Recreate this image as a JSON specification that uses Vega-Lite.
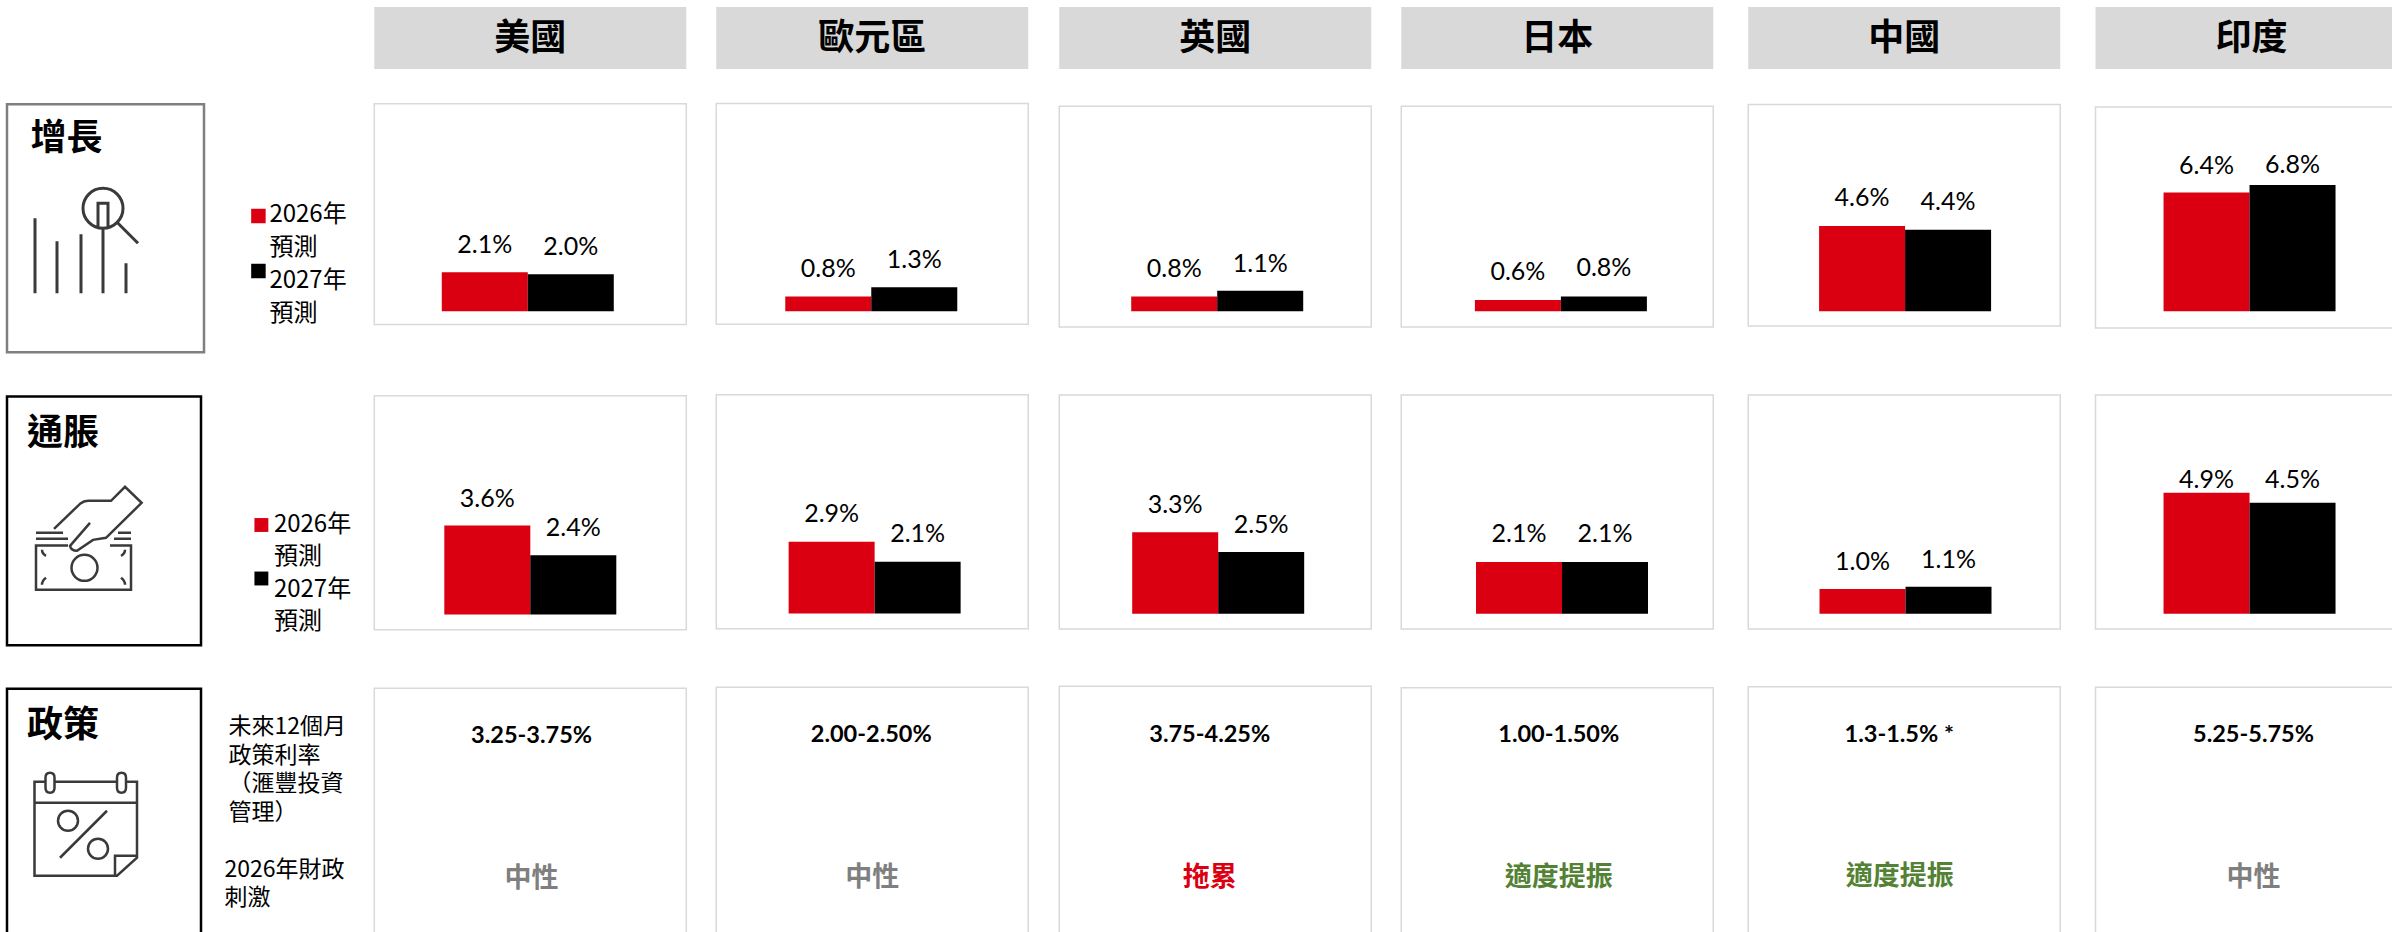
{"$schema":"https://vega.github.io/schema/vega-lite/v6.json","padding":{"left":5,"top":7,"right":0,"bottom":0},"background":"white",
"config":{"view":{"stroke":"#d9d9d9","strokeWidth":1.5},"font":"Noto Sans CJK TC","text":{"baseline":"middle","fill":"#000000"},"style":{"val":{"font":"Lato","fontSize":25,"baseline":"middle","fill":"#000000"},"rate":{"font":"Lato","fontSize":23.5,"fontWeight":"bold","baseline":"middle","fill":"#000000"},"head":{"fontSize":36,"fontWeight":"bold","baseline":"middle","fill":"#000000","dy":1},"cat":{"fontSize":36,"fontWeight":"bold","baseline":"middle","align":"center","fill":"#000000"},"fiscal":{"fontSize":27,"fontWeight":"bold","baseline":"middle"},"side":{"fontSize":24,"baseline":"middle","align":"left","fill":"#000000"},"sidesmall":{"fontSize":23,"baseline":"middle","align":"left","fill":"#000000"},"icon":{"filled":false,"opacity":1,"size":4}}},
"datasets":{
"forecasts":[
{"country":"美國","metric":"增長","year":"2026年","value":2.1,"label":"2.1%"},{"country":"美國","metric":"增長","year":"2027年","value":2.0,"label":"2.0%"},
{"country":"歐元區","metric":"增長","year":"2026年","value":0.8,"label":"0.8%"},{"country":"歐元區","metric":"增長","year":"2027年","value":1.3,"label":"1.3%"},
{"country":"英國","metric":"增長","year":"2026年","value":0.8,"label":"0.8%"},{"country":"英國","metric":"增長","year":"2027年","value":1.1,"label":"1.1%"},
{"country":"日本","metric":"增長","year":"2026年","value":0.6,"label":"0.6%"},{"country":"日本","metric":"增長","year":"2027年","value":0.8,"label":"0.8%"},
{"country":"中國","metric":"增長","year":"2026年","value":4.6,"label":"4.6%"},{"country":"中國","metric":"增長","year":"2027年","value":4.4,"label":"4.4%"},
{"country":"印度","metric":"增長","year":"2026年","value":6.4,"label":"6.4%"},{"country":"印度","metric":"增長","year":"2027年","value":6.8,"label":"6.8%"},
{"country":"美國","metric":"通脹","year":"2026年","value":3.6,"label":"3.6%"},{"country":"美國","metric":"通脹","year":"2027年","value":2.4,"label":"2.4%"},
{"country":"歐元區","metric":"通脹","year":"2026年","value":2.9,"label":"2.9%"},{"country":"歐元區","metric":"通脹","year":"2027年","value":2.1,"label":"2.1%"},
{"country":"英國","metric":"通脹","year":"2026年","value":3.3,"label":"3.3%"},{"country":"英國","metric":"通脹","year":"2027年","value":2.5,"label":"2.5%"},
{"country":"日本","metric":"通脹","year":"2026年","value":2.1,"label":"2.1%"},{"country":"日本","metric":"通脹","year":"2027年","value":2.1,"label":"2.1%"},
{"country":"中國","metric":"通脹","year":"2026年","value":1.0,"label":"1.0%"},{"country":"中國","metric":"通脹","year":"2027年","value":1.1,"label":"1.1%"},
{"country":"印度","metric":"通脹","year":"2026年","value":4.9,"label":"4.9%"},{"country":"印度","metric":"通脹","year":"2027年","value":4.5,"label":"4.5%"}],
"countries":[{"country":"美國","rate":"3.25-3.75%","fiscal":"中性"},{"country":"歐元區","rate":"2.00-2.50%","fiscal":"中性"},{"country":"英國","rate":"3.75-4.25%","fiscal":"拖累"},{"country":"日本","rate":"1.00-1.50%","fiscal":"適度提振"},{"country":"中國","rate":"1.3-1.5% *","fiscal":"適度提振"},{"country":"印度","rate":"5.25-5.75%","fiscal":"中性"}],
"categories":[{"category":"增長"},{"category":"通脹"},{"category":"政策"}],
"years":[{"year":"2026年"},{"year":"2027年"}],
"legendLines":[{"line":1,"text":"2026年"},{"line":2,"text":"預測"},{"line":3,"text":"2027年"},{"line":4,"text":"預測"}],
"policyLines":[{"line":1,"text":"未來12個月"},{"line":2,"text":"政策利率"},{"line":3,"text":"（滙豐投資"},{"line":4,"text":"管理）"},{"line":6,"text":"2026年財政"},{"line":7,"text":"刺激"}]},
"hconcat":[{"spacing":33.25,"hconcat":[
{"spacing":28.25,"hconcat":[
{"spacing":29.25,"hconcat":[
{"spacing":27.25,"hconcat":[
{"spacing":13.3,"hconcat":[
{"spacing":18.4,"hconcat":[
{"spacing":40.25,"vconcat":[
{"width":1,"height":54.5,"view":{"stroke":null},"data":{"values":[]},"mark":{"type":"text"},"encoding":{}},
{"width":197,"height":248,"view":{"stroke":"#7f7f7f","strokeWidth":2.5},"data":{"name":"categories"},"transform":[{"filter":"datum.category==='增長'"}],"layer":[
{"mark":{"type":"text","style":"cat","dx":-39,"dy":-89},"encoding":{"text":{"field":"category"}}},
{"mark":{"type":"point","style":"icon","stroke":"#3a3a3a","strokeWidth":3,"shape":"M-70.5 -10 L-70.5 65 M-48.5 13 L-48.5 65 M-24.5 6 L-24.5 65 M-2.5 0 L-2.5 65 M20.5 35 L20.5 65 M-22.5 -20 A20 20 0 1 0 17.5 -20 A20 20 0 1 0 -22.5 -20 M-7.5 0 L-7.5 -25 L2.5 -25 L2.5 0 M12.5 -5 L32.5 15"},"encoding":{}}]},
{"width":194,"height":248.7,"view":{"stroke":"#000000","strokeWidth":2.5},"data":{"name":"categories"},"transform":[{"filter":"datum.category==='通脹'"}],"layer":[
{"mark":{"type":"text","style":"cat","dx":-41,"dy":-87},"encoding":{"text":{"field":"category"}}},
{"mark":{"type":"point","style":"icon","stroke":"#3a3a3a","strokeWidth":2.5,"shape":"M-50 8 L-24 -17 Q-20 -20 -16 -20 L7 -20 L21 -34 L37.6 -18 L2 17 L-11 19 L-27 30 Q-33 30 -34 25 L-14 2 M-68 12 L-41 12 M-68 18 L-36 18 M14 12 L27 12 M10 18 L27 18 M-36 24.7 L-68 24.7 L-68 69 L27 69 L27 24.7 L6 24.7 M-32.5 47 A13 13 0 1 0 -6.5 47 A13 13 0 1 0 -32.5 47 M-62 29 Q-62 33 -58 35 M21 29 Q21 33 17 35 M-62 64 Q-62 60 -58 57 M21 64 Q21 60 17 57"},"encoding":{}}]},
{"width":194,"height":260,"view":{"stroke":"#000000","strokeWidth":2.5},"data":{"name":"categories"},"transform":[{"filter":"datum.category==='政策'"}],"layer":[
{"mark":{"type":"text","style":"cat","dx":-41,"dy":-93},"encoding":{"text":{"field":"category"}}},
{"mark":{"type":"point","style":"icon","stroke":"#3a3a3a","strokeWidth":2.5,"shape":"M-58.5 -37 L-69.5 -37 L-69.5 57 L13 57 L33 39 L33 -37 L22 -37 M-49.5 -37 L13 -37 M-69.5 -16 L33 -16 M11 57 L11 37 L33 37 M-58.5 -41 Q-58.5 -46 -54 -46 Q-49.5 -46 -49.5 -41 L-49.5 -31 Q-49.5 -26 -54 -26 Q-58.5 -26 -58.5 -31 Z M13 -41 Q13 -46 17.5 -46 Q22 -46 22 -41 L22 -31 Q22 -26 17.5 -26 Q13 -26 13 -31 Z M-46 2 A10 10 0 1 0 -26 2 A10 10 0 1 0 -46 2 M3 -8 L-44 39 M-16 30 A10 10 0 1 0 4 30 A10 10 0 1 0 -16 30"},"encoding":{}}]}]},
{"spacing":74.7,"vconcat":[
{"spacing":179,"vconcat":[
{"width":1,"height":12,"view":{"stroke":null},"data":{"values":[]},"mark":{"type":"text"},"encoding":{}},
{"width":135,"height":132,"view":{"stroke":null},"resolve":{"scale":{"y":"independent"}},"layer":[
{"data":{"name":"legendLines"},"mark":{"type":"text","style":"side","dx":-22.5},"encoding":{"y":{"field":"line","type":"ordinal","axis":null,"scale":{"type":"point","padding":0.5}},"text":{"field":"text"}}},
{"data":{"name":"years"},"mark":{"type":"point","shape":"square","filled":true,"size":210,"opacity":1},"encoding":{"x":{"datum":0.252,"type":"quantitative","axis":null,"scale":{"domain":[0,1]}},"y":{"field":"year","type":"ordinal","axis":null,"scale":{"type":"point","padding":0,"range":[18,73]}},"color":{"field":"year","type":"nominal","legend":null,"scale":{"domain":["2026年","2027年"],"range":["#db0011","#000000"]}}}}]},
{"width":135,"height":129,"view":{"stroke":null},"resolve":{"scale":{"y":"independent"}},"layer":[
{"data":{"name":"legendLines"},"mark":{"type":"text","style":"side","dx":-18},"encoding":{"y":{"field":"line","type":"ordinal","axis":null,"scale":{"type":"point","padding":0.5}},"text":{"field":"text"}}},
{"data":{"name":"years"},"mark":{"type":"point","shape":"square","filled":true,"size":193,"opacity":1},"encoding":{"x":{"datum":0.274,"type":"quantitative","axis":null,"scale":{"domain":[0,1]}},"y":{"field":"year","type":"ordinal","axis":null,"scale":{"type":"point","padding":0,"range":[16,69.5]}},"color":{"field":"year","type":"nominal","legend":null,"scale":{"domain":["2026年","2027年"],"range":["#db0011","#000000"]}}}}]}]},
{"width":135,"height":200,"view":{"stroke":null},"data":{"name":"policyLines"},"encoding":{"y":{"field":"line","type":"ordinal","axis":null,"scale":{"type":"point","padding":0.5,"domain":[1,2,3,4,5,6,7]}},"text":{"field":"text"}},"layer":[
{"transform":[{"filter":"datum.line<5"}],"mark":{"type":"text","style":"sidesmall","dx":-63.5}},
{"transform":[{"filter":"datum.line>5"}],"mark":{"type":"text","style":"sidesmall","dx":-67.5}}]}]}]},

{"spacing":56.2,"vconcat":[{"spacing":68.8,"vconcat":[{"spacing":33.75,"vconcat":[
{"width":312,"height":62,"view":{"fill":"#d9d9d9","stroke":null},"data":{"name":"countries"},"transform":[{"filter":"datum.country==='美國'"}],"mark":{"type":"text","style":"head"},"encoding":{"text":{"field":"country"}}},
{"width":312,"height":220.7,"data":{"name":"forecasts"},"transform":[{"filter":"datum.country==='美國'&&datum.metric==='增長'"}],"encoding":{"x":{"field":"year","type":"nominal","axis":null,"scale":{"type":"band","domain":["2026年","2027年"],"paddingInner":0,"paddingOuter":0.814,"align":0.482}},"y":{"field":"value","type":"quantitative","axis":null,"scale":{"domain":[-0.7116,11.186],"nice":false,"zero":false}}},"layer":[{"mark":{"type":"bar"},"encoding":{"color":{"field":"year","type":"nominal","legend":null,"scale":{"domain":["2026年","2027年"],"range":["#db0011","#000000"]}}}},{"mark":{"type":"text","style":"val","dy":-27},"encoding":{"text":{"field":"label"}}}]}]},
{"width":312,"height":234,"data":{"name":"forecasts"},"transform":[{"filter":"datum.country==='美國'&&datum.metric==='通脹'"}],"encoding":{"x":{"field":"year","type":"nominal","axis":null,"scale":{"type":"band","domain":["2026年","2027年"],"paddingInner":0,"paddingOuter":0.814,"align":0.5}},"y":{"field":"value","type":"quantitative","axis":null,"scale":{"domain":[-0.6194,8.854],"nice":false,"zero":false}}},"layer":[{"mark":{"type":"bar"},"encoding":{"color":{"field":"year","type":"nominal","legend":null,"scale":{"domain":["2026年","2027年"],"range":["#db0011","#000000"]}}}},{"mark":{"type":"text","style":"val","dy":-27},"encoding":{"text":{"field":"label"}}}]}]},
{"width":312,"height":260,"view":{"stroke":"#d9d9d9","strokeWidth":1.5},"data":{"name":"countries"},"transform":[{"filter":"datum.country==='美國'"}],"layer":[{"mark":{"type":"text","style":"rate","dx":1.3,"dy":-82},"encoding":{"text":{"field":"rate"}}},{"mark":{"type":"text","style":"fiscal","dx":1.3,"dy":61},"encoding":{"text":{"field":"fiscal"},"fill":{"field":"fiscal","type":"nominal","legend":null,"scale":{"domain":["中性","拖累","適度提振"],"range":["#7f7f7f","#db0011","#548235"]}}}}]}]}]},

{"spacing":56.2,"vconcat":[{"spacing":68.8,"vconcat":[{"spacing":33.55,"vconcat":[
{"width":312,"height":62,"view":{"fill":"#d9d9d9","stroke":null},"data":{"name":"countries"},"transform":[{"filter":"datum.country==='歐元區'"}],"mark":{"type":"text","style":"head"},"encoding":{"text":{"field":"country"}}},
{"width":312,"height":220.7,"data":{"name":"forecasts"},"transform":[{"filter":"datum.country==='歐元區'&&datum.metric==='增長'"}],"encoding":{"x":{"field":"year","type":"nominal","axis":null,"scale":{"type":"band","domain":["2026年","2027年"],"paddingInner":0,"paddingOuter":0.814,"align":0.493}},"y":{"field":"value","type":"quantitative","axis":null,"scale":{"domain":[-0.7008,11.197],"nice":false,"zero":false}}},"layer":[{"mark":{"type":"bar"},"encoding":{"color":{"field":"year","type":"nominal","legend":null,"scale":{"domain":["2026年","2027年"],"range":["#db0011","#000000"]}}}},{"mark":{"type":"text","style":"val","dy":-27},"encoding":{"text":{"field":"label"}}}]}]},
{"width":312,"height":234,"data":{"name":"forecasts"},"transform":[{"filter":"datum.country==='歐元區'&&datum.metric==='通脹'"}],"encoding":{"x":{"field":"year","type":"nominal","axis":null,"scale":{"type":"band","domain":["2026年","2027年"],"paddingInner":0,"paddingOuter":0.814,"align":0.517}},"y":{"field":"value","type":"quantitative","axis":null,"scale":{"domain":[-0.6194,8.854],"nice":false,"zero":false}}},"layer":[{"mark":{"type":"bar"},"encoding":{"color":{"field":"year","type":"nominal","legend":null,"scale":{"domain":["2026年","2027年"],"range":["#db0011","#000000"]}}}},{"mark":{"type":"text","style":"val","dy":-27.5},"encoding":{"text":{"field":"label"}}}]}]},
{"width":312,"height":260,"view":{"stroke":"#d9d9d9","strokeWidth":1.5},"data":{"name":"countries"},"transform":[{"filter":"datum.country==='歐元區'"}],"layer":[{"mark":{"type":"text","style":"rate","dx":-1,"dy":-82},"encoding":{"text":{"field":"rate"}}},{"mark":{"type":"text","style":"fiscal","dx":0,"dy":61},"encoding":{"text":{"field":"fiscal"},"fill":{"field":"fiscal","type":"nominal","legend":null,"scale":{"domain":["中性","拖累","適度提振"],"range":["#7f7f7f","#db0011","#548235"]}}}}]}]}]},

{"spacing":55.2,"vconcat":[{"spacing":66.1,"vconcat":[{"spacing":36.25,"vconcat":[
{"width":312,"height":62,"view":{"fill":"#d9d9d9","stroke":null},"data":{"name":"countries"},"transform":[{"filter":"datum.country==='英國'"}],"mark":{"type":"text","style":"head"},"encoding":{"text":{"field":"country"}}},
{"width":312,"height":220.7,"data":{"name":"forecasts"},"transform":[{"filter":"datum.country==='英國'&&datum.metric==='增長'"}],"encoding":{"x":{"field":"year","type":"nominal","axis":null,"scale":{"type":"band","domain":["2026年","2027年"],"paddingInner":0,"paddingOuter":0.814,"align":0.514}},"y":{"field":"value","type":"quantitative","axis":null,"scale":{"domain":[-0.8464,11.051],"nice":false,"zero":false}}},"layer":[{"mark":{"type":"bar"},"encoding":{"color":{"field":"year","type":"nominal","legend":null,"scale":{"domain":["2026年","2027年"],"range":["#db0011","#000000"]}}}},{"mark":{"type":"text","style":"val","dy":-27},"encoding":{"text":{"field":"label"}}}]}]},
{"width":312,"height":234,"data":{"name":"forecasts"},"transform":[{"filter":"datum.country==='英國'&&datum.metric==='通脹'"}],"encoding":{"x":{"field":"year","type":"nominal","axis":null,"scale":{"type":"band","domain":["2026年","2027年"],"paddingInner":0,"paddingOuter":0.814,"align":0.521}},"y":{"field":"value","type":"quantitative","axis":null,"scale":{"domain":[-0.6194,8.854],"nice":false,"zero":false}}},"layer":[{"mark":{"type":"bar"},"encoding":{"color":{"field":"year","type":"nominal","legend":null,"scale":{"domain":["2026年","2027年"],"range":["#db0011","#000000"]}}}},{"mark":{"type":"text","style":"val","dy":-27.3},"encoding":{"text":{"field":"label"}}}]}]},
{"width":312,"height":260,"view":{"stroke":"#d9d9d9","strokeWidth":1.5},"data":{"name":"countries"},"transform":[{"filter":"datum.country==='英國'"}],"layer":[{"mark":{"type":"text","style":"rate","dx":-5.5,"dy":-81},"encoding":{"text":{"field":"rate"}}},{"mark":{"type":"text","style":"fiscal","dx":-5.5,"dy":62},"encoding":{"text":{"field":"fiscal"},"fill":{"field":"fiscal","type":"nominal","legend":null,"scale":{"domain":["中性","拖累","適度提振"],"range":["#7f7f7f","#db0011","#548235"]}}}}]}]}]},

{"spacing":56.7,"vconcat":[{"spacing":66.1,"vconcat":[{"spacing":36.25,"vconcat":[
{"width":312,"height":62,"view":{"fill":"#d9d9d9","stroke":null},"data":{"name":"countries"},"transform":[{"filter":"datum.country==='日本'"}],"mark":{"type":"text","style":"head"},"encoding":{"text":{"field":"country"}}},
{"width":312,"height":220.7,"data":{"name":"forecasts"},"transform":[{"filter":"datum.country==='日本'&&datum.metric==='增長'"}],"encoding":{"x":{"field":"year","type":"nominal","axis":null,"scale":{"type":"band","domain":["2026年","2027年"],"paddingInner":0,"paddingOuter":0.814,"align":0.526}},"y":{"field":"value","type":"quantitative","axis":null,"scale":{"domain":[-0.8464,11.051],"nice":false,"zero":false}}},"layer":[{"mark":{"type":"bar"},"encoding":{"color":{"field":"year","type":"nominal","legend":null,"scale":{"domain":["2026年","2027年"],"range":["#db0011","#000000"]}}}},{"mark":{"type":"text","style":"val","dy":-28},"encoding":{"text":{"field":"label"}}}]}]},
{"width":312,"height":234,"data":{"name":"forecasts"},"transform":[{"filter":"datum.country==='日本'&&datum.metric==='通脹'"}],"encoding":{"x":{"field":"year","type":"nominal","axis":null,"scale":{"type":"band","domain":["2026年","2027年"],"paddingInner":0,"paddingOuter":0.814,"align":0.534}},"y":{"field":"value","type":"quantitative","axis":null,"scale":{"domain":[-0.6194,8.854],"nice":false,"zero":false}}},"layer":[{"mark":{"type":"bar"},"encoding":{"color":{"field":"year","type":"nominal","legend":null,"scale":{"domain":["2026年","2027年"],"range":["#db0011","#000000"]}}}},{"mark":{"type":"text","style":"val","dy":-28},"encoding":{"text":{"field":"label"}}}]}]},
{"width":312,"height":260,"view":{"stroke":"#d9d9d9","strokeWidth":1.5},"data":{"name":"countries"},"transform":[{"filter":"datum.country==='日本'"}],"layer":[{"mark":{"type":"text","style":"rate","dx":1.5,"dy":-82.5},"encoding":{"text":{"field":"rate"}}},{"mark":{"type":"text","style":"fiscal","dx":1.5,"dy":60},"encoding":{"text":{"field":"fiscal"},"fill":{"field":"fiscal","type":"nominal","legend":null,"scale":{"domain":["中性","拖累","適度提振"],"range":["#7f7f7f","#db0011","#548235"]}}}}]}]}]},

{"spacing":55.7,"vconcat":[{"spacing":67.1,"vconcat":[{"spacing":34.55,"vconcat":[
{"width":312,"height":62,"view":{"fill":"#d9d9d9","stroke":null},"data":{"name":"countries"},"transform":[{"filter":"datum.country==='中國'"}],"mark":{"type":"text","style":"head"},"encoding":{"text":{"field":"country"}}},
{"width":312,"height":221.4,"data":{"name":"forecasts"},"transform":[{"filter":"datum.country==='中國'&&datum.metric==='增長'"}],"encoding":{"x":{"field":"year","type":"nominal","axis":null,"scale":{"type":"band","domain":["2026年","2027年"],"paddingInner":0,"paddingOuter":0.814,"align":0.506}},"y":{"field":"value","type":"quantitative","axis":null,"scale":{"domain":[-0.7925,11.143],"nice":false,"zero":false}}},"layer":[{"mark":{"type":"bar"},"encoding":{"color":{"field":"year","type":"nominal","legend":null,"scale":{"domain":["2026年","2027年"],"range":["#db0011","#000000"]}}}},{"mark":{"type":"text","style":"val","dy":-27.5},"encoding":{"text":{"field":"label"}}}]}]},
{"width":312,"height":234,"data":{"name":"forecasts"},"transform":[{"filter":"datum.country==='中國'&&datum.metric==='通脹'"}],"encoding":{"x":{"field":"year","type":"nominal","axis":null,"scale":{"type":"band","domain":["2026年","2027年"],"paddingInner":0,"paddingOuter":0.814,"align":0.509}},"y":{"field":"value","type":"quantitative","axis":null,"scale":{"domain":[-0.6194,8.854],"nice":false,"zero":false}}},"layer":[{"mark":{"type":"bar"},"encoding":{"color":{"field":"year","type":"nominal","legend":null,"scale":{"domain":["2026年","2027年"],"range":["#db0011","#000000"]}}}},{"mark":{"type":"text","style":"val","dy":-27},"encoding":{"text":{"field":"label"}}}]}]},
{"width":312,"height":260,"view":{"stroke":"#d9d9d9","strokeWidth":1.5},"data":{"name":"countries"},"transform":[{"filter":"datum.country==='中國'"}],"layer":[{"mark":{"type":"text","style":"rate","dx":-5,"dy":-82},"encoding":{"text":{"field":"rate"}}},{"mark":{"type":"text","style":"fiscal","dx":-4.5,"dy":60.5},"encoding":{"text":{"field":"fiscal"},"fill":{"field":"fiscal","type":"nominal","legend":null,"scale":{"domain":["中性","拖累","適度提振"],"range":["#7f7f7f","#db0011","#548235"]}}}}]}]},

{"spacing":56.2,"vconcat":[{"spacing":65.1,"vconcat":[{"spacing":36.95,"vconcat":[
{"width":312,"height":62,"view":{"fill":"#d9d9d9","stroke":null},"data":{"name":"countries"},"transform":[{"filter":"datum.country==='印度'"}],"mark":{"type":"text","style":"head"},"encoding":{"text":{"field":"country"}}},
{"width":312,"height":221,"data":{"name":"forecasts"},"transform":[{"filter":"datum.country==='印度'&&datum.metric==='增長'"}],"encoding":{"x":{"field":"year","type":"nominal","axis":null,"scale":{"type":"band","domain":["2026年","2027年"],"paddingInner":0,"paddingOuter":0.814,"align":0.486}},"y":{"field":"value","type":"quantitative","axis":null,"scale":{"domain":[-0.9003,11.013],"nice":false,"zero":false}}},"layer":[{"mark":{"type":"bar"},"encoding":{"color":{"field":"year","type":"nominal","legend":null,"scale":{"domain":["2026年","2027年"],"range":["#db0011","#000000"]}}}},{"transform":[{"filter":"datum.year==='2026年'"}],"mark":{"type":"text","style":"val","dy":-27},"encoding":{"text":{"field":"label"}}},{"transform":[{"filter":"datum.year==='2027年'"}],"mark":{"type":"text","style":"val","dy":-20.6},"encoding":{"text":{"field":"label"}}}]}]},
{"width":312,"height":234,"data":{"name":"forecasts"},"transform":[{"filter":"datum.country==='印度'&&datum.metric==='通脹'"}],"encoding":{"x":{"field":"year","type":"nominal","axis":null,"scale":{"type":"band","domain":["2026年","2027年"],"paddingInner":0,"paddingOuter":0.814,"align":0.486}},"y":{"field":"value","type":"quantitative","axis":null,"scale":{"domain":[-0.6194,8.854],"nice":false,"zero":false}}},"layer":[{"mark":{"type":"bar"},"encoding":{"color":{"field":"year","type":"nominal","legend":null,"scale":{"domain":["2026年","2027年"],"range":["#db0011","#000000"]}}}},{"transform":[{"filter":"datum.year==='2026年'"}],"mark":{"type":"text","style":"val","dy":-13},"encoding":{"text":{"field":"label"}}},{"transform":[{"filter":"datum.year==='2027年'"}],"mark":{"type":"text","style":"val","dy":-22.6},"encoding":{"text":{"field":"label"}}}]}]},
{"width":312,"height":260,"view":{"stroke":"#d9d9d9","strokeWidth":1.5},"data":{"name":"countries"},"transform":[{"filter":"datum.country==='印度'"}],"layer":[{"mark":{"type":"text","style":"rate","dx":2,"dy":-82},"encoding":{"text":{"field":"rate"}}},{"mark":{"type":"text","style":"fiscal","dx":2,"dy":60.5},"encoding":{"text":{"field":"fiscal"},"fill":{"field":"fiscal","type":"nominal","legend":null,"scale":{"domain":["中性","拖累","適度提振"],"range":["#7f7f7f","#db0011","#548235"]}}}}]}]}]}]}
